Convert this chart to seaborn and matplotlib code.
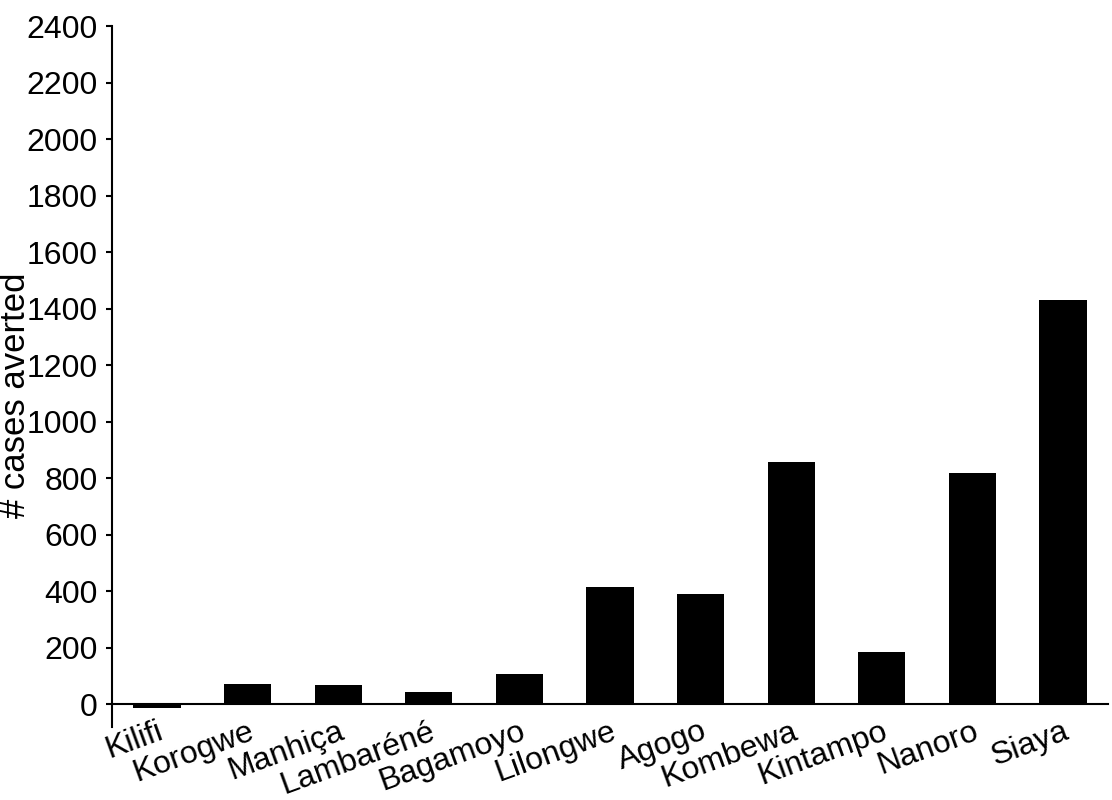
import numpy as np
import pandas as pd
import matplotlib
matplotlib.use("Agg")
import matplotlib.pyplot as plt
import seaborn as sns

# sites and cases averted
sites = ["Kilifi", "Korogwe", "Manhiça", "Lambaréné", "Bagamoyo", "Lilongwe",
         "Agogo", "Kombewa", "Kintampo", "Nanoro", "Siaya"]
cases_averted = [-15, 70, 67, 43, 105, 416, 389, 857, 184, 817, 1430]
y_ticks = list(range(0, 2401, 200))

df = pd.DataFrame({"site": sites, "cases": cases_averted})

sns.set_style("white")
plt.rcParams["font.family"] = ["Liberation Sans", "DejaVu Sans"]
plt.rcParams["text.color"] = "black"
plt.rcParams["axes.labelcolor"] = "black"
plt.rcParams["xtick.color"] = "black"
plt.rcParams["ytick.color"] = "black"

fig = plt.figure(figsize=(11.12, 8), dpi=100)
ax = fig.add_axes([0.1005, 0.0916, 0.8962, 0.8759])

sns.barplot(data=df, x="site", y="cases", color="black", saturation=1,
            width=0.52, ax=ax, edgecolor="none")

ax.set_xlim(-0.5, len(sites) - 0.5)
ax.set_ylim(-80, 2400)

# spines first: moving a spine resets the axis ticks
for s in ["top", "right"]:
    ax.spines[s].set_visible(False)
for s in ["left", "bottom"]:
    ax.spines[s].set_color("black")
    ax.spines[s].set_linewidth(1.5)
ax.spines["bottom"].set_position(("data", 0))

ax.tick_params(axis="x", which="major", length=0, pad=9)
ax.tick_params(axis="x", which="minor", length=4, width=1.5, direction="out")
ax.tick_params(axis="y", length=4, width=1.5, direction="out", pad=6, left=True)

ax.set_yticks(y_ticks)
ax.set_yticklabels([str(t) for t in y_ticks], fontsize=23)

# labels at category centres, tick marks at category boundaries
ax.set_xticks(np.arange(len(sites)))
ax.set_xticks(np.arange(-0.5, len(sites)), minor=True)
ax.set_xticklabels(sites, fontsize=23, rotation=20, ha="right",
                   rotation_mode="anchor", va="top")

ax.set_xlabel("")
ax.set_ylabel("# cases averted", fontsize=25)
ax.yaxis.set_label_coords(-0.097, 0.473)
ax.yaxis.label.set_va("center")

fig.savefig("out.png", dpi=100)
